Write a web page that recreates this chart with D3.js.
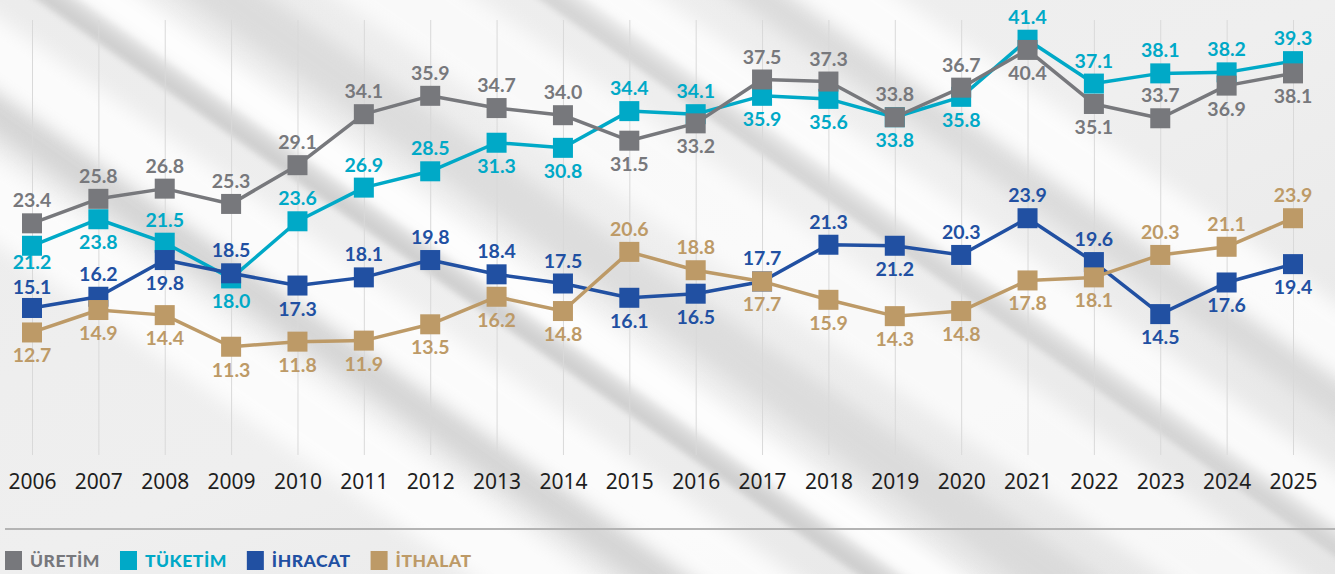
<!DOCTYPE html>
<html>
<head>
<meta charset="utf-8">
<script src="https://cdn.jsdelivr.net/npm/d3@7"></script>
<style>
  html, body { margin: 0; padding: 0; background: #eeeeee; }
  #chart { width: 1335px; height: 574px; }
  .years text { font-family: "Noto Sans", "Open Sans", sans-serif; font-size: 21px; fill: #1e1e1e; }
  .val { font-family: Lato, "Noto Sans", sans-serif; font-size: 19.5px; font-weight: 700; }
  .leg { font-family: Lato, "Noto Sans", sans-serif; font-size: 17.5px; font-weight: 900; letter-spacing: 0.5px; }
</style>
</head>
<body>
<div id="chart"></div>
<script>
// data
const years = ["2006","2007","2008","2009","2010","2011","2012","2013","2014","2015",
               "2016","2017","2018","2019","2020","2021","2022","2023","2024","2025"];
const uretim  = [23.4,25.8,26.8,25.3,29.1,34.1,35.9,34.7,34.0,31.5,33.2,37.5,37.3,33.8,36.7,40.4,35.1,33.7,36.9,38.1];
const tuketim = [21.2,23.8,21.5,18.0,23.6,26.9,28.5,31.3,30.8,34.4,34.1,35.9,35.6,33.8,35.8,41.4,37.1,38.1,38.2,39.3];
const ihracat = [15.1,16.2,19.8,18.5,17.3,18.1,19.8,18.4,17.5,16.1,16.5,17.7,21.3,21.2,20.3,23.9,19.6,14.5,17.6,19.4];
const ithalat = [12.7,14.9,14.4,11.3,11.8,11.9,13.5,16.2,14.8,20.6,18.8,17.7,15.9,14.3,14.8,17.8,18.1,20.3,21.1,23.9];

// where each value label sits: u = above the marker, d = below
const uretimLbl  = "uuuuuuuuudduuuuddudd".split("");
const tuketimLbl = "dduduuudduudddduuuuu".split("");
const ihracatLbl = "uududuuuudduuduuuddd".split("");
const ithalatLbl = "ddddddddduudddddduuu".split("");
// small manual nudges where two labels crowd each other
const nudge = {"TÜKETİM 2006": -7, "İHRACAT 2006": 2};

// drawing order (later ones sit on top)
const series = [
  {name: "TÜKETİM", values: tuketim, lbl: tuketimLbl, color: "#00a9c7"},
  {name: "ÜRETİM",  values: uretim,  lbl: uretimLbl,  color: "#77787c"},
  {name: "İHRACAT", values: ihracat, lbl: ihracatLbl, color: "#2150a2"},
  {name: "İTHALAT", values: ithalat, lbl: ithalatLbl, color: "#bd9a67"}
];
const legendOrder = ["ÜRETİM", "TÜKETİM", "İHRACAT", "İTHALAT"];

const W = 1335, H = 574;

const svg = d3.select("#chart")
  .append("svg")
    .attr("width", W)
    .attr("height", H);

// background: soft grey with blurred diagonal streaks
const defs = svg.append("defs");
const bg = defs.append("linearGradient").attr("id", "bg")
  .attr("x1", 0).attr("y1", 0).attr("x2", 1).attr("y2", 1);
bg.append("stop").attr("offset", 0).attr("stop-color", "#ececec");
bg.append("stop").attr("offset", 0.5).attr("stop-color", "#efefef");
bg.append("stop").attr("offset", 1).attr("stop-color", "#e6e6e6");
defs.append("filter").attr("id", "blur").attr("x", "-50%").attr("y", "-50%").attr("width", "200%").attr("height", "200%")
  .append("feGaussianBlur").attr("stdDeviation", 9);
defs.append("filter").attr("id", "blur2").attr("x", "-50%").attr("y", "-50%").attr("width", "200%").attr("height", "200%")
  .append("feGaussianBlur").attr("stdDeviation", 3);

svg.append("rect").attr("width", W).attr("height", H).attr("fill", "url(#bg)");

const streaks = [
  {cx: 120, w: 70, c: "#ffffff", o: 0.8, f: "blur"},
  {cx: 250, w: 40, c: "#cccccc", o: 0.7, f: "blur"},
  {cx: 330, w: 60, c: "#ffffff", o: 0.8, f: "blur"},
  {cx: 470, w: 26, c: "#c8c8c8", o: 0.8, f: "blur2"},
  {cx: 520, w: 40, c: "#ffffff", o: 0.9, f: "blur"},
  {cx: 640, w: 50, c: "#d2d2d2", o: 0.6, f: "blur"},
  {cx: 820, w: 80, c: "#ffffff", o: 0.7, f: "blur"},
  {cx: 975, w: 28, c: "#cacaca", o: 0.7, f: "blur2"},
  {cx: 1030, w: 50, c: "#ffffff", o: 0.8, f: "blur"},
  {cx: 1180, w: 40, c: "#d0d0d0", o: 0.6, f: "blur"},
  {cx: 1260, w: 60, c: "#ffffff", o: 0.8, f: "blur"}
];
const sg = svg.append("g");
streaks.forEach(s => {
  sg.append("rect")
    .attr("x", s.cx - s.w / 2).attr("y", -600)
    .attr("width", s.w).attr("height", 1800)
    .attr("fill", s.c).attr("opacity", s.o)
    .attr("filter", "url(#" + s.f + ")")
    .attr("transform", `rotate(-55, ${s.cx}, 287)`);
});

// scales
const x = d3.scalePoint().domain(years).range([32, 1293]);
const y = d3.scaleLinear().domain([0, 45]).range([462, 3]);

// vertical grid lines
svg.append("g")
  .attr("transform", "translate(0,455)")
  .call(d3.axisBottom(x).tickSize(-435).tickFormat(""))
  .call(g => g.select(".domain").remove())
  .call(g => g.selectAll("line").attr("stroke", "#d9d9d9").attr("stroke-width", 1));

// year labels
svg.append("g")
  .attr("class", "years")
  .attr("transform", "translate(0,468)")
  .call(d3.axisBottom(x).tickSize(0).tickPadding(6))
  .call(g => g.select(".domain").remove())
  .call(g => g.selectAll("text").attr("fill", "#1e1e1e"));

// lines + markers
const line = d3.line()
  .x((d, i) => x(years[i]))
  .y(d => y(d));

series.forEach(s => {
  const g = svg.append("g");
  g.append("path")
    .datum(s.values)
    .attr("fill", "none")
    .attr("stroke", s.color)
    .attr("stroke-width", 3.5)
    .attr("stroke-linejoin", "round")
    .attr("d", line);
  g.selectAll("rect")
    .data(s.values)
    .join("rect")
      .attr("x", (d, i) => x(years[i]) - 10)
      .attr("y", d => y(d) - 10)
      .attr("width", 20)
      .attr("height", 20)
      .attr("fill", s.color);
});

// value labels on top
series.forEach(s => {
  svg.append("g")
    .selectAll("text")
    .data(s.values)
    .join("text")
      .attr("class", "val")
      .attr("x", (d, i) => x(years[i]))
      .attr("y", (d, i) => (s.lbl[i] === "u" ? y(d) - 16 : y(d) + 30) + (nudge[s.name + " " + years[i]] || 0))
      .attr("text-anchor", "middle")
      .attr("fill", s.color)
      .text(d => d.toFixed(1));
});

// separator
svg.append("line")
  .attr("x1", 5).attr("x2", W)
  .attr("y1", 529).attr("y2", 529)
  .attr("stroke", "#b4b4b4")
  .attr("stroke-width", 2);

// legend
const legend = svg.append("g").attr("transform", "translate(5,551)");
let lx = 0;
legendOrder.forEach(n => {
  const s = series.find(d => d.name === n);
  legend.append("rect")
    .attr("x", lx).attr("y", 0)
    .attr("width", 17).attr("height", 19)
    .attr("fill", s.color);
  const t = legend.append("text")
    .attr("class", "leg")
    .attr("x", lx + 25)
    .attr("y", 16)
    .attr("fill", s.color)
    .text(n);
  lx += 25 + t.node().getComputedTextLength() + 20;
});
</script>
</body>
</html>
